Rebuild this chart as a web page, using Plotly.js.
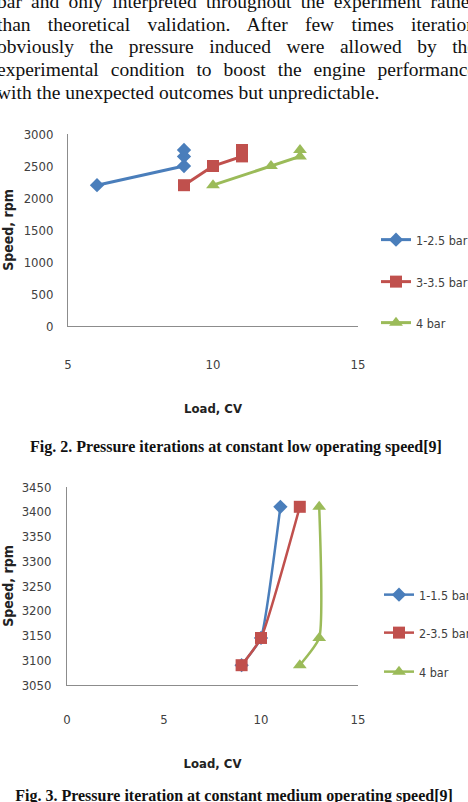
<!DOCTYPE html>
<html>
<head>
<meta charset="utf-8">
<script src="https://cdn.plot.ly/plotly-3.0.1.min.js"></script>
<style>
  html, body { margin: 0; padding: 0; background: #fff; }
  body { width: 468px; height: 802px; position: relative; overflow: hidden; }
  #chart { position: absolute; left: 0; top: 0; width: 468px; height: 802px; }
  .para { position: absolute; left: -3px; top: -9px; width: 479px;
          font-family: "Liberation Serif", "Times New Roman", serif; font-size: 19.5px;
          line-height: 22.7px; color: #111; }
  .para div { white-space: nowrap; }
  .para div.j { text-align: justify; text-align-last: justify; white-space: normal; }
  .cap { position: absolute; left: 0; width: 468px; text-align: center;
         font-family: "Liberation Serif", "Times New Roman", serif; font-weight: bold;
         font-size: 16px; color: #111; white-space: nowrap; }
</style>
</head>
<body>
<div id="chart"></div>
<div class="para">
  <div class="j">bar and only interpreted throughout the experiment rather</div>
  <div class="j">than theoretical validation. After few times iteration</div>
  <div class="j">obviously the pressure induced were allowed by the</div>
  <div class="j">experimental condition to boost the engine performance</div>
  <div>with the unexpected outcomes but unpredictable.</div>
</div>
<div class="cap" style="top:438px; left:2px;">Fig. 2. Pressure iterations at constant low operating speed[9]</div>
<div class="cap" style="top:787px;">Fig. 3. Pressure iteration at constant medium operating speed[9]</div>
<script>
// ---- Fig. 2 data (low operating speed) ----
const fig2Names = ["1-2.5 bar", "3-3.5 bar", "4 bar"];
const fig2LoadA = [6, 9, 9, 9];
const fig2SpeedA = [2200, 2500, 2650, 2750];
const fig2LoadB = [9, 10, 11, 11];
const fig2SpeedB = [2200, 2500, 2650, 2750];
const fig2LoadC = [10, 12, 13, 13];
const fig2SpeedC = [2200, 2500, 2650, 2750];
const fig2XTicks = [5, 10, 15];
const fig2YTicks = [0, 500, 1000, 1500, 2000, 2500, 3000];

// ---- Fig. 3 data (medium operating speed) ----
const fig3Names = ["1-1.5 bar", "2-3.5 bar", "4 bar"];
const fig3LoadA = [9, 10, 11];
const fig3SpeedA = [3090, 3145, 3410];
const fig3LoadB = [9, 10, 12];
const fig3SpeedB = [3090, 3145, 3410];
const fig3LoadC = [12, 13, 13];
const fig3SpeedC = [3090, 3145, 3410];
const fig3XTicks = [0, 5, 10, 15];
const fig3YTicks = [3050, 3100, 3150, 3200, 3250, 3300, 3350, 3400, 3450];

const W = 468, H = 802;
const px = v => v / W;
const py = v => 1 - v / H;

const BLUE = "#4A7EBB", RED = "#C0504D", GREEN = "#9BBB59";
const NARROW = "DejaVu Sans Condensed, Liberation Sans Narrow, sans-serif";
const TXT = "#404040";

function tr(x, y, name, color, symbol, size, xa, ya, leg, width, shape, smooth) {
  return {
    x: x, y: y, name: name, type: "scatter", mode: "lines+markers",
    xaxis: xa, yaxis: ya, legend: leg,
    line: { color: color, width: width, shape: shape || "linear", smoothing: smooth || 1 },
    marker: { color: color, symbol: symbol, size: size }
  };
}

const data = [
  tr(fig2LoadA, fig2SpeedA, fig2Names[0], BLUE, "diamond", 11, "x", "y", "legend", 3),
  tr(fig2LoadB, fig2SpeedB, fig2Names[1], RED, "square", 12, "x", "y", "legend2", 3),
  tr(fig2LoadC, fig2SpeedC, fig2Names[2], GREEN, "triangle-up", 12, "x", "y", "legend3", 3),
  tr(fig3LoadA, fig3SpeedA, fig3Names[0], BLUE, "diamond", 11, "x2", "y2", "legend4", 2.5, "spline", 0.4),
  tr(fig3LoadB, fig3SpeedB, fig3Names[1], RED, "square", 12, "x2", "y2", "legend5", 2.5, "spline", 0.5),
  tr(fig3LoadC, fig3SpeedC, fig3Names[2], GREEN, "triangle-up", 12, "x2", "y2", "legend6", 2.5, "spline", 0.5)
];

function leg(xPix, yPix) {
  return {
    x: px(xPix), y: py(yPix), xanchor: "left", yanchor: "middle",
    bgcolor: "rgba(0,0,0,0)", borderwidth: 0, itemwidth: 30,
    font: { family: NARROW, size: 12.5, color: TXT }
  };
}

const axisCommon = {
  showgrid: false, zeroline: false, showline: true, linecolor: "#8c8c8c", linewidth: 1,
  ticks: "outside", tickcolor: "rgba(0,0,0,0)",
  tickfont: { family: NARROW, size: 13, color: TXT },
  fixedrange: true, automargin: false
};

const layout = {
  width: W, height: H,
  margin: { l: 0, r: 0, t: 0, b: 0, autoexpand: false },
  paper_bgcolor: "rgba(0,0,0,0)", plot_bgcolor: "#fff",
  showlegend: true,
  xaxis: Object.assign({}, axisCommon, {
    domain: [px(68), px(358)], range: [5, 15], tickvals: fig2XTicks, ticklen: 26,
    anchor: "y",
    title: { text: "<b>Load, CV</b>", font: { family: NARROW, size: 13, color: "#222" }, standoff: 33 }
  }),
  yaxis: Object.assign({}, axisCommon, {
    domain: [py(326), py(134)], range: [0, 3000], tickvals: fig2YTicks, ticklen: 11,
    anchor: "x",
    title: { text: "<b>Speed, rpm</b>", font: { family: NARROW, size: 14, color: "#222" }, standoff: 9 }
  }),
  xaxis2: Object.assign({}, axisCommon, {
    domain: [px(67), px(358)], range: [0, 15], tickvals: fig3XTicks, ticklen: 22,
    anchor: "y2",
    title: { text: "<b>Load, CV</b>", font: { family: NARROW, size: 13, color: "#222" }, standoff: 33 }
  }),
  yaxis2: Object.assign({}, axisCommon, {
    domain: [py(685), py(487)], range: [3050, 3450], tickvals: fig3YTicks, ticklen: 12,
    anchor: "x2",
    title: { text: "<b>Speed, rpm</b>", font: { family: NARROW, size: 14, color: "#222" }, standoff: 9 }
  }),
  legend: leg(376, 240),
  legend2: leg(376, 282),
  legend3: leg(376, 323),
  legend4: leg(379, 595),
  legend5: leg(379, 633),
  legend6: leg(379, 672)
};

Plotly.newPlot("chart", data, layout, { staticPlot: true, displayModeBar: false });
</script>
</body>
</html>
